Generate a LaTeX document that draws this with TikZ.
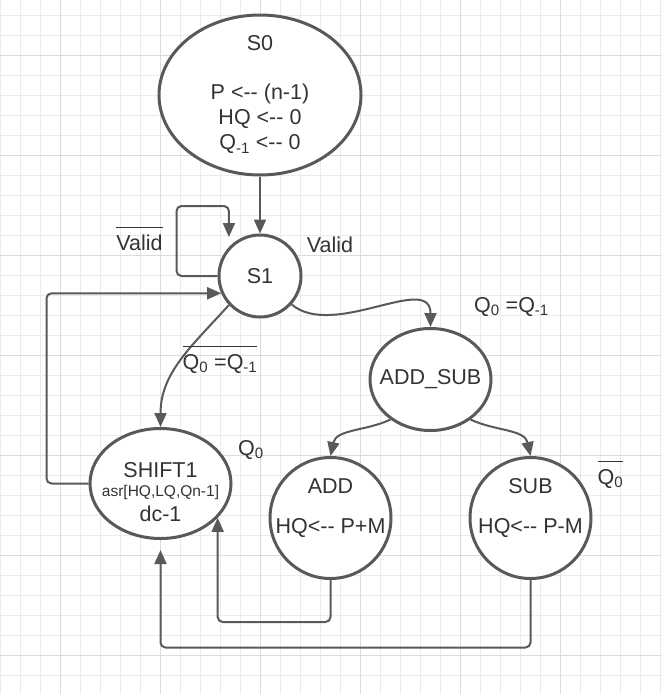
\documentclass[tikz,border=0pt]{standalone}
\usepackage{fontspec}
\setmainfont{Liberation Sans}
\usepackage{tikz}
\usetikzlibrary{arrows.meta,calc,shapes.geometric}
\definecolor{ink}{HTML}{333333}
\definecolor{edge}{HTML}{595959}
\definecolor{gridmin}{HTML}{EBEBEB}
\definecolor{gridmaj}{HTML}{DCDCDC}
\newcommand\ld{<\kern0pt-\kern0pt-}
\newcommand\negd[1]{\vbox{\hrule height 1.4pt\kern 7pt\hbox{#1}}}
\tikzset{
  st/.style={draw=edge, line width=3pt, fill=white, inner sep=0pt, text=ink},
  circ/.style={st, circle, minimum size=#1},
  oval/.style 2 args={st, ellipse, minimum width=#1, minimum height=#2},
  txt/.style={text=ink, align=center, inner sep=0pt},
  arr/.style={-{Triangle[length=14pt,width=12pt]}, line width=2pt, draw=edge},
  lbl/.style={text=ink, inner sep=0pt, anchor=base},
  gmin/.style={line width=1pt, gridmin},
  gmaj/.style={line width=1pt, gridmaj},
}

\begin{document}
\begin{tikzpicture}[x=1pt, y=-1pt, font=\fontsize{21.5}{25}\selectfont]
  % --- paper ---
  \fill[white] (0,0) rectangle (662,694);
  \useasboundingbox (0,0) rectangle (662,694);
  \foreach \gx in {0,20,...,660} \draw[gmin] (\gx,0) -- (\gx,694);
  \foreach \gy in {15,35,...,675} \draw[gmin] (0,\gy) -- (662,\gy);
  \foreach \gx in {60,160,...,560} \draw[gmaj] (\gx,0) -- (\gx,694);
  \foreach \gy in {55,155,...,655} \draw[gmaj] (0,\gy) -- (662,\gy);

  % --- states ---
  \node[oval={202}{160}, label={[txt]center:{S0\\[24pt]P \ld{} (n-1)\\HQ \ld{} 0\\Q\textsubscript{-1} \ld{} 0}}] (s0) at (260,95) {};
  \node[circ=82] (s1) at (260,276) {S1};
  \node[oval={121}{102}, label={[txt]center:{ADD\_SUB}}] (addsub) at (430.5,379.5) {};
  \node[oval={141}{110}, label={[txt,yshift=-9pt]center:{SHIFT1\\[-6pt]{\fontsize{15.5}{19}\selectfont asr[HQ,LQ,Qn-1]}\\dc-1}}] (shift) at (160.5,483.5) {};
  \node[circ=121, label={[txt,yshift=10pt]center:{ADD\\[15pt]HQ\ld{} P+M}}] (add) at (330.5,518) {};
  \node[circ=121, label={[txt,yshift=10pt]center:{SUB\\[15pt]HQ\ld{} P-M}}] (sub) at (530.5,518) {};

  % --- transitions ---
  \draw[arr] (s0) -- (s1);
  \draw[arr, rounded corners=5, shorten >=10pt] (s1.west) -- ++(-41,0) |- ($(s1.137)+(0,-41)$) -- (s1.137);
  \draw[arr, rounded corners=5] (shift.west) -- ++(-42,0) |- (s1.204);
  \draw[arr] (s1.-42) to[out=-40, in=90] (addsub.north);
  \draw[arr] (s1.-137) to[out=-132, in=90] (shift.north);
  \draw[arr] (addsub.-135) to[out=-155, in=78] (add.north);
  \draw[arr] (addsub.-45) to[out=-25, in=102] (sub.north);
  \draw[arr, rounded corners=5] (add.south) -- ++(0,42) -| (shift.-31);
  \draw[arr, rounded corners=5, shorten >=10pt] (sub.south) -- ++(0,67.5) -| (shift.south);

  % --- conditions ---
  \node[lbl] (nvalid) at (139.5,250.5) {\negd{Valid}};
  \node[lbl] (valid) at (330,252.5) {Valid};
  \node[lbl] (eq) at (511.5,312.5) {Q\textsubscript{0} =Q\textsubscript{-1}};
  \node[lbl] (neq) at (220,369.5) {\negd{Q\textsubscript{0} =Q\textsubscript{-1}}};
  \node[lbl] (q0) at (251,455.5) {Q\textsubscript{0}};
  \node[lbl] (nq0) at (610.5,484.5) {\negd{Q\textsubscript{0}}};
\end{tikzpicture}
\end{document}
